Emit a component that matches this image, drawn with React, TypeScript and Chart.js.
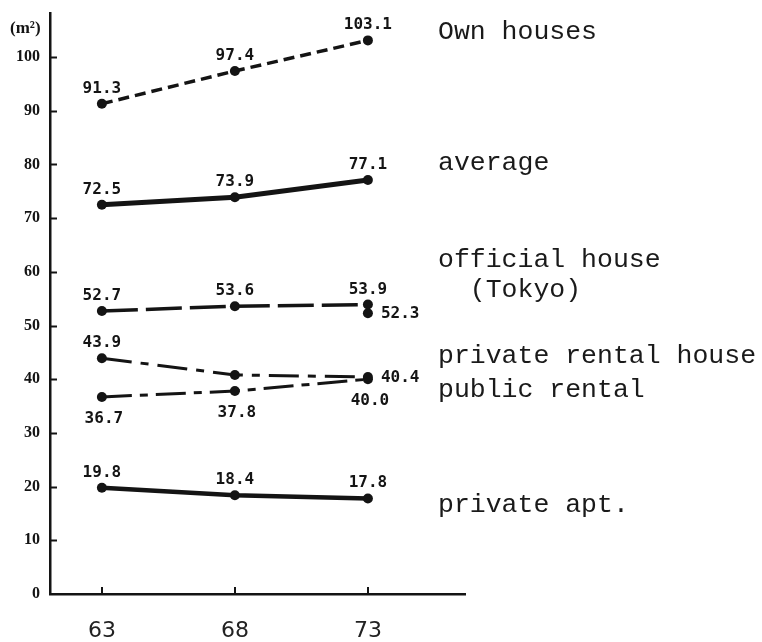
import React, { useEffect, useRef } from 'react';
import { Chart, registerables } from 'chart.js';

Chart.register(...registerables);

// ---- data ----
const years = [63, 68, 73];
const ownHouses = [91.3, 97.4, 103.1];
const average = [72.5, 73.9, 77.1];
const officialHouse = [52.7, 53.6, 53.9];
const officialHouseExtra: (number | null)[] = [null, null, 52.3];
const privateRental = [43.9, 40.8, 40.4];
const publicRental = [36.7, 37.8, 40.0];
const privateApt = [19.8, 18.4, 17.8];
const yTickValues = [0, 10, 20, 30, 40, 50, 60, 70, 80, 90, 100];
const seriesNames = ['Own houses', 'average', 'official house', '(Tokyo)', 'private rental house', 'public rental', 'private apt.'];

const INK = '#141414';

const toPoints = (vals: (number | null)[]) =>
  years.map((x, i) => ({ x, y: vals[i] })).filter((p) => p.y !== null);

const annotPlugin = {
  id: 'annot',
  afterDatasetsDraw(chart: any) {
    const { ctx, chartArea, scales } = chart;
    const x = scales.x;
    const y = scales.y;
    ctx.save();
    // inward ticks
    ctx.strokeStyle = INK;
    ctx.lineWidth = 2;
    yTickValues.forEach((v) => {
      if (v === 0) return;
      const py = Math.round(y.getPixelForValue(v)) + 0.5;
      ctx.beginPath();
      ctx.moveTo(chartArea.left, py);
      ctx.lineTo(chartArea.left + 7, py);
      ctx.stroke();
    });
    years.forEach((v) => {
      const px = Math.round(x.getPixelForValue(v));
      ctx.beginPath();
      ctx.moveTo(px, chartArea.bottom);
      ctx.lineTo(px, chartArea.bottom - 7);
      ctx.stroke();
    });
    // unit label
    ctx.fillStyle = INK;
    ctx.font = 'bold 17px "Liberation Serif"';
    ctx.textAlign = 'left';
    ctx.textBaseline = 'alphabetic';
    ctx.fillText('(m²)', 10, 33);

    // data labels
    ctx.font = 'bold 16px "DejaVu Sans Mono"';
    chart.data.datasets.forEach((ds: any, di: number) => {
      const meta = chart.getDatasetMeta(di);
      meta.data.forEach((pt: any, i: number) => {
        const pos = ds.labelPos ? ds.labelPos[i] : null;
        if (!pos) return;
        const txt = Number(ds.data[i].y).toFixed(1);
        if (pos === 'above') {
          ctx.textAlign = 'center';
          ctx.textBaseline = 'alphabetic';
          ctx.fillText(txt, pt.x, pt.y - 11);
        } else if (pos === 'below') {
          ctx.textAlign = 'center';
          ctx.textBaseline = 'alphabetic';
          ctx.fillText(txt, pt.x + 2, pt.y + 26);
        } else if (pos === 'right') {
          ctx.textAlign = 'left';
          ctx.textBaseline = 'middle';
          ctx.fillText(txt, pt.x + 13, pt.y + 1);
        }
      });
    });

    // series names at the right
    ctx.font = '26.5px "Liberation Mono"';
    ctx.fillStyle = '#1a1a1a';
    ctx.textAlign = 'left';
    ctx.textBaseline = 'alphabetic';
    const nameX = chartArea.right - 27;
    const charW = ctx.measureText('M').width;
    const anchors = [103.35, 78.96, 60.9, 55.3, 43.0, 36.7, 15.3];
    seriesNames.forEach((name, i) => {
      const indent = name === '(Tokyo)' ? charW * 2 : 0;
      ctx.fillText(name, nameX + indent, y.getPixelForValue(anchors[i]));
    });
    ctx.restore();
  },
};

export default function App() {
  const ref = useRef<HTMLCanvasElement | null>(null);
  useEffect(() => {
    if (!ref.current) return;
    const common = {
      borderColor: INK,
      pointBackgroundColor: INK,
      pointBorderWidth: 0,
      pointRadius: 5,
      pointHoverRadius: 5,
      tension: 0,
      fill: false,
    };
    const chart = new Chart(ref.current, {
      type: 'line',
      data: {
        datasets: [
          { ...common, label: 'Own houses', data: toPoints(ownHouses), borderWidth: 3.5, borderDash: [11, 6], labelPos: ['above', 'above', 'above'] } as any,
          { ...common, label: 'average', data: toPoints(average), borderWidth: 5, borderCapStyle: 'round', labelPos: ['above', 'above', 'above'] } as any,
          { ...common, label: 'official house (Tokyo)', data: toPoints(officialHouse), borderWidth: 3.5, borderDash: [36, 8], labelPos: ['above', 'above', 'above'] } as any,
          { ...common, label: 'official house extra', data: toPoints(officialHouseExtra), showLine: false, labelPos: ['right'] } as any,
          { ...common, label: 'private rental house', data: toPoints(privateRental), borderWidth: 3, borderDash: [30, 9, 8, 9], labelPos: ['above', null, 'right'] } as any,
          { ...common, label: 'public rental', data: toPoints(publicRental), borderWidth: 3, borderDash: [30, 8, 8, 8], labelPos: ['below', 'below', 'below'] } as any,
          { ...common, label: 'private apt.', data: toPoints(privateApt), borderWidth: 4.5, borderCapStyle: 'round', labelPos: ['above', 'above', 'above'] } as any,
        ],
      },
      options: {
        animation: false,
        responsive: false,
        devicePixelRatio: 1,
        events: [],
        layout: { padding: { left: 0, top: 13, right: 297, bottom: 0 } },
        plugins: { legend: { display: false }, tooltip: { enabled: false } },
        scales: {
          x: {
            type: 'linear',
            min: 61.05,
            max: 76.65,
            afterBuildTicks: (axis: any) => {
              axis.ticks = years.map((v) => ({ value: v }));
            },
            afterFit: (scale: any) => {
              scale.height = 48;
              scale.paddingLeft = 0;
              scale.paddingRight = 0;
            },
            grid: { display: false, drawTicks: false },
            border: { display: true, color: INK, width: 2.5 },
            ticks: {
              color: '#222',
              font: { family: '"DejaVu Sans"', size: 22 },
              padding: 24,
              maxRotation: 0,
              callback: (v: any) => String(v),
            },
          },
          y: {
            type: 'linear',
            min: 0,
            max: 108.2,
            afterBuildTicks: (axis: any) => {
              axis.ticks = yTickValues.map((v) => ({ value: v }));
            },
            afterFit: (scale: any) => {
              scale.width = 50;
              scale.paddingTop = 0;
              scale.paddingBottom = 0;
            },
            grid: { display: false, drawTicks: false },
            border: { display: true, color: INK, width: 2.5 },
            ticks: {
              color: INK,
              font: { family: '"Liberation Serif"', size: 16, weight: 'bold' },
              padding: 10,
              callback: (v: any) => String(v),
            },
          },
        },
      } as any,
      plugins: [annotPlugin],
    });
    return () => chart.destroy();
  }, []);
  return (
    <div style={{ position: 'fixed', left: 0, top: 0, width: 762, height: 642, background: '#fff' }}>
      <canvas ref={ref} width={762} height={642} style={{ display: 'block', width: 762, height: 642 }} />
    </div>
  );
}
